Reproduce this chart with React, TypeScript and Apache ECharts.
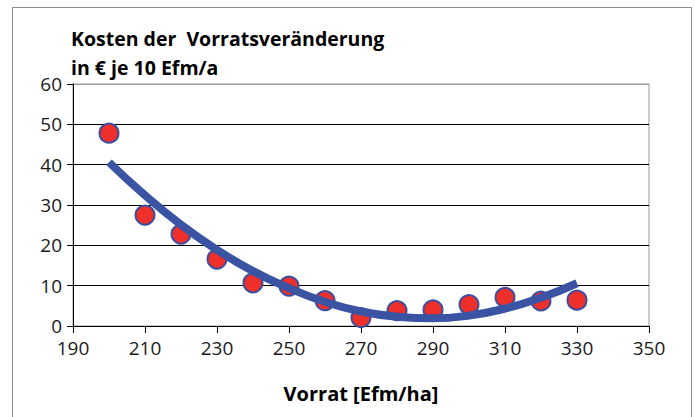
import React, { useEffect, useRef } from "react";
import * as echarts from "echarts";

const vorrat = [200, 210, 220, 230, 240, 250, 260, 270, 280, 290, 300, 310, 320, 330];
const kosten = [47.8, 27.5, 22.8, 16.6, 10.7, 9.9, 6.3, 2.1, 3.8, 4.0, 5.3, 7.1, 6.2, 6.4];
const trend = [40.6, 32.4, 25.1, 18.9, 13.6, 9.4, 6.0, 3.6, 2.3, 1.9, 2.6, 4.3, 7.0, 10.6];
const titleLines = ["Kosten der  Vorratsveränderung", "in € je 10 Efm/a"];
const xName = "Vorrat [Efm/ha]";

const FONT = "'Open Sans', 'Noto Sans', sans-serif";

export default function App() {
  const ref = useRef<HTMLDivElement>(null);
  useEffect(() => {
    if (!ref.current) return;
    const chart = echarts.init(ref.current, undefined, { renderer: "svg" });
    chart.setOption({
      animation: false,
      backgroundColor: "#fff",
      graphic: [
        {
          type: "rect",
          shape: { x: 12.5, y: 7.5, width: 679, height: 420 },
          style: { fill: "none", stroke: "#8c8c8c", lineWidth: 1 },
          z: 0,
        },
        {
          type: "text",
          left: 71,
          top: 24,
          style: {
            text: titleLines.join("\n"),
            font: `bold 19.5px ${FONT}`,
            lineHeight: 29,
            fill: "#000",
          },
        },
      ],
      grid: {
        left: 73,
        right: 46,
        top: 84,
        bottom: 91,
        show: true,
        borderColor: "#999",
        borderWidth: 1,
        backgroundColor: "transparent",
      },
      xAxis: {
        type: "value",
        min: 190,
        max: 350,
        interval: 20,
        name: xName,
        nameLocation: "middle",
        nameGap: 57,
        nameTextStyle: { fontFamily: FONT, fontWeight: "bold", fontSize: 20, color: "#000" },
        axisLine: { show: true, lineStyle: { color: "#000", width: 1 } },
        axisTick: { show: true, length: 7, lineStyle: { color: "#000" } },
        axisLabel: { fontFamily: FONT, fontSize: 19, color: "#1a1a1a", margin: 12 },
        splitLine: { show: false },
      },
      yAxis: {
        type: "value",
        min: 0,
        max: 60,
        interval: 10,
        axisLine: { show: true, lineStyle: { color: "#000", width: 1 } },
        axisTick: { show: true, length: 6, lineStyle: { color: "#000" } },
        axisLabel: { fontFamily: FONT, fontSize: 19, color: "#1a1a1a", margin: 11 },
        splitLine: {
          show: true,
          lineStyle: { color: ["#000", "#000", "#000", "#000", "#000", "#000", "#999"], width: 1 },
        },
      },
      series: [
        {
          type: "scatter",
          data: vorrat.map((x, i) => [x, kosten[i]]),
          symbol: "circle",
          symbolSize: 19,
          itemStyle: { color: "#ee2f2a", borderColor: "#3b4ea0", borderWidth: 2, opacity: 1 },
          z: 2,
        },
        {
          type: "line",
          data: vorrat.map((x, i) => [x, trend[i]]),
          smooth: true,
          showSymbol: false,
          symbol: "none",
          lineStyle: { color: "#3a53a3", width: 8, cap: "butt" },
          z: 3,
        },
      ],
    });
    return () => chart.dispose();
  }, []);
  return (
    <div
      ref={ref}
      style={{ position: "fixed", left: 0, top: 0, width: 695, height: 417 }}
    />
  );
}
